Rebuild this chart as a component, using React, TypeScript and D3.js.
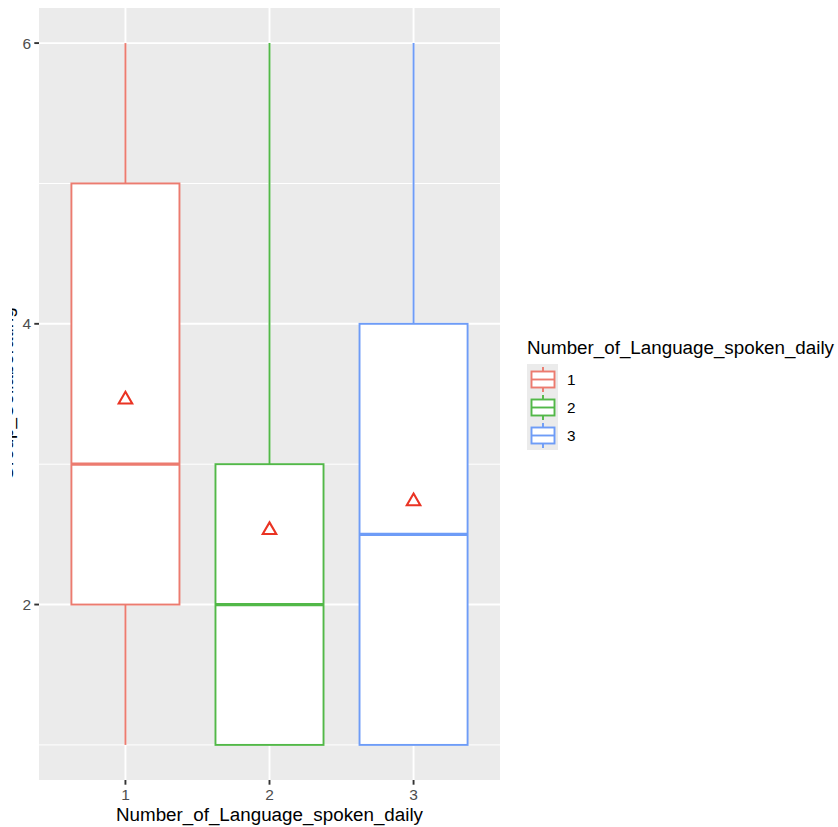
import React from "react";
import * as d3 from "d3";

// Five-number summaries per group, plus the group mean
const groups = ["1", "2", "3"];
const lowerWhisker = [1, 1, 1];
const q1 = [2, 1, 1];
const medians = [3, 2, 2.5];
const q3 = [5, 3, 4];
const upperWhisker = [6, 6, 6];
const means = [3.46, 2.53, 2.735];

const colors = ["#EC7B6F", "#52B848", "#6E9CF7"];
const meanColor = "#EA3323";
const yTicks = [2, 4, 6];
const yMinor = [1, 3, 5];

const xTitle = "Number_of_Language_spoken_daily";
const yTitle = "Group_Collaborating";
const legendTitle = "Number_of_Language_spoken_daily";

const W = 838;
const H = 827;
const panel = { left: 39, right: 500, top: 8, bottom: 780 };
const FONT = "'Liberation Sans', Arial, Helvetica, sans-serif";

export default function App() {
  const x = d3
    .scalePoint<string>()
    .domain(groups)
    .range([panel.left, panel.right])
    .padding(0.6);
  const y = d3.scaleLinear().domain([0.75, 6.25]).range([panel.bottom, panel.top]);
  const boxW = x.step() * 0.75;

  // open triangle (R pch 2) around a centre point
  const tri = (cx: number, cy: number) => {
    const r = 7.8;
    const xc = r * (Math.sqrt(3) / 2);
    return `M${cx},${cy - r}L${cx + xc},${cy + r / 2}L${cx - xc},${cy + r / 2}Z`;
  };

  const legendX = 527;
  const legendRows = [379.5, 407.5, 435.5];

  return (
    <div style={{ position: "fixed", left: 0, top: 0 }}>
      <svg width={W} height={H} style={{ display: "block", background: "#fff" }}>
        <defs>
          {/* the y title sits mostly past the left edge; only its descenders show */}
          <clipPath id="ytitle-clip">
            <rect x={12} y={0} width={10} height={H} />
          </clipPath>
        </defs>

        {/* panel */}
        <rect
          x={panel.left}
          y={panel.top}
          width={panel.right - panel.left}
          height={panel.bottom - panel.top}
          fill="#EBEBEB"
        />
        {yMinor.map((v) => (
          <line key={"mn" + v} x1={panel.left} x2={panel.right} y1={y(v)} y2={y(v)} stroke="#fff" strokeWidth={1} />
        ))}
        {yTicks.map((v) => (
          <line key={"mj" + v} x1={panel.left} x2={panel.right} y1={y(v)} y2={y(v)} stroke="#fff" strokeWidth={1.9} />
        ))}
        {groups.map((g) => (
          <line key={"vx" + g} x1={x(g)} x2={x(g)} y1={panel.top} y2={panel.bottom} stroke="#fff" strokeWidth={1.9} />
        ))}

        {/* boxes */}
        {groups.map((g, i) => {
          const cx = x(g) as number;
          return (
            <g key={"box" + g}>
              <line x1={cx} x2={cx} y1={y(q3[i])} y2={y(upperWhisker[i])} stroke={colors[i]} strokeWidth={1.9} />
              <line x1={cx} x2={cx} y1={y(q1[i])} y2={y(lowerWhisker[i])} stroke={colors[i]} strokeWidth={1.9} />
              <rect
                x={cx - boxW / 2}
                y={y(q3[i])}
                width={boxW}
                height={y(q1[i]) - y(q3[i])}
                fill="#fff"
                stroke={colors[i]}
                strokeWidth={1.9}
              />
              <line
                x1={cx - boxW / 2}
                x2={cx + boxW / 2}
                y1={y(medians[i])}
                y2={y(medians[i])}
                stroke={colors[i]}
                strokeWidth={3.2}
              />
              <path d={tri(cx, y(means[i]))} fill="none" stroke={meanColor} strokeWidth={2.1} strokeLinejoin="miter" />
            </g>
          );
        })}

        {/* y axis */}
        {yTicks.map((v) => (
          <g key={"yt" + v}>
            <line x1={panel.left - 4.7} x2={panel.left} y1={y(v)} y2={y(v)} stroke="#333" strokeWidth={1.9} />
            <text
              x={panel.left - 8}
              y={y(v)}
              dy="0.36em"
              textAnchor="end"
              fontFamily={FONT}
              fontSize={15.5}
              fill="#4D4D4D"
            >
              {v}
            </text>
          </g>
        ))}
        <g clipPath="url(#ytitle-clip)">
          <text
            transform={`translate(12.5,${(panel.top + panel.bottom) / 2}) rotate(-90)`}
            textAnchor="middle"
            fontFamily={FONT}
            fontSize={18.8}
            fill="#000"
          >
            {yTitle}
          </text>
        </g>

        {/* x axis */}
        {groups.map((g) => (
          <g key={"xt" + g}>
            <line x1={x(g)} x2={x(g)} y1={panel.bottom} y2={panel.bottom + 4.7} stroke="#333" strokeWidth={1.9} />
            <text
              x={x(g)}
              y={799.5}
              textAnchor="middle"
              fontFamily={FONT}
              fontSize={15.5}
              fill="#4D4D4D"
            >
              {g}
            </text>
          </g>
        ))}
        <text
          x={(panel.left + panel.right) / 2}
          y={821}
          textAnchor="middle"
          fontFamily={FONT}
          fontSize={18.8}
          fill="#000"
        >
          {xTitle}
        </text>

        {/* legend */}
        <text x={legendX} y={354} fontFamily={FONT} fontSize={18.8} fill="#000">
          {legendTitle}
        </text>
        <rect x={legendX} y={364} width={31} height={86} fill="#EBEBEB" />
        {groups.map((g, i) => {
          const cy = legendRows[i];
          const kx = legendX + 4.5;
          const kw = 23;
          return (
            <g key={"lg" + g}>
              <line x1={kx + kw / 2} x2={kx + kw / 2} y1={cy - 12.5} y2={cy + 12.5} stroke={colors[i]} strokeWidth={1.9} />
              <rect x={kx} y={cy - 8} width={kw} height={16} fill="#fff" stroke={colors[i]} strokeWidth={1.9} />
              <line x1={kx} x2={kx + kw} y1={cy} y2={cy} stroke={colors[i]} strokeWidth={1.9} />
              <text x={567} y={cy + 5.5} fontFamily={FONT} fontSize={15.3} fill="#000">
                {g}
              </text>
            </g>
          );
        })}
      </svg>
    </div>
  );
}
